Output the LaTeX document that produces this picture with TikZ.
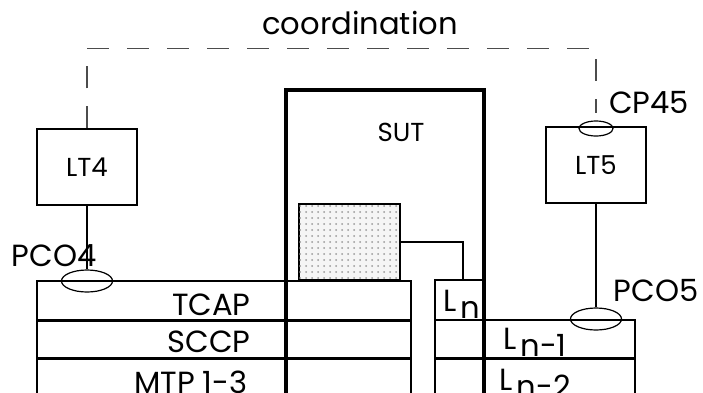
\documentclass[tikz,border=0pt]{standalone}
\usepackage{fontspec}
\setmainfont{Poppins}
\usetikzlibrary{shapes.geometric,patterns}

\newcommand{\lsub}[1]{L\hspace{2pt}\raisebox{-3.5pt}{#1}}

\begin{document}
\begin{tikzpicture}[
  x=0.5pt, y=-0.5pt, font=\fontsize{15.3}{17}\selectfont,
  box/.style={draw,line width=0.6pt,inner sep=0pt},
  pco/.style={ellipse,draw,line width=0.6pt,inner sep=0pt},
  lbl/.style={inner sep=0pt},
  divider/.style={line width=1.1pt},
  link/.style={line width=0.9pt},
  sutline/.style={line width=1.7pt},
  coord/.style={line width=0.6pt,black!70,dash pattern=on 11pt off 9pt}
]
  \useasboundingbox (0,0) rectangle (703,392);
  \clip (0,0) rectangle (703,392);
  % testers
  \node[box,minimum width=50pt,minimum height=38pt,font=\fontsize{13}{15}\selectfont] (lt4) at (87,167) {LT4};
  \node[box,minimum width=50pt,minimum height=38pt,font=\fontsize{13}{15}\selectfont] (lt5) at (596,165) {LT5};
  \node[pco,minimum width=25.5pt,minimum height=11pt] (pco4) at (87,281) {};
  \node[pco,minimum width=25.5pt,minimum height=11pt] (pco5) at (596,319) {};
  \node[pco,minimum width=17pt,minimum height=7.5pt] (cp45) at (596,128.5) {};
  \coordinate (cpend) at (596,113);
  % left stack
  \node[box,minimum width=187pt,minimum height=19.5pt] (tcap) at (224,300.5) {};
  \node[box,minimum width=187pt,minimum height=19pt] (sccp) at (224,339) {};
  \node[box,minimum width=187pt,minimum height=31pt] (mtp) at (224,389) {};
  \draw[divider] (tcap.south west) -- (tcap.south east);
  \draw[divider] (sccp.south west) -- (sccp.south east);
  % right stack
  \node[box,minimum width=24.5pt,minimum height=20pt] (ln) at (459.5,300) {};
  \node[box,minimum width=100pt,minimum height=19pt] (ln1) at (535,339) {};
  \node[box,minimum width=100pt,minimum height=31pt] (ln2) at (535,389) {};
  \draw[divider] (ln1.south west) -- (ln1.south east);
  \coordinate (lnin) at (463,280);
  % SUT
  \node[draw,sutline,minimum width=99pt,minimum height=165pt] (sut) at (385,255) {};
  \node[box,minimum width=50.5pt,minimum height=38pt,fill=gray!8,
        postaction={pattern=dots,pattern color=gray!80}] (shade) at (349.5,242) {};
  % texts
  \node[lbl] (coordlab) at (360,23) {coordination};
  \node[lbl] (pco4lab) at (54,256) {PCO4};
  \node[lbl] (pco5lab) at (656,291) {PCO5};
  \node[lbl] (cp45lab) at (649,103) {CP45};
  \node[lbl,font=\fontsize{13}{15}\selectfont] (sutlab) at (401,132) {SUT};
  \node[lbl,anchor=east] (tcaplab) at (251,305) {TCAP};
  \node[lbl,anchor=east] (sccplab) at (251,342) {SCCP};
  \node[lbl,anchor=east] (mtplab) at (248,382) {MTP 1-3};
  \node[lbl] (lnlab) at (462,304) {\lsub{n}};
  \node[lbl] (ln1lab) at (535,342.5) {\lsub{n-1}};
  \node[lbl] (ln2lab) at (535,383) {\lsub{n-2}};
  % connections
  \draw[link] (lt4.south) -- (pco4.north);
  \draw[link] (lt5.south) -- (pco5.north);
  \draw[link] (shade.east) -| (lnin);
  \draw[coord] (lt4.north) -- ++(0,-80) -| (cpend);
\end{tikzpicture}
\end{document}
